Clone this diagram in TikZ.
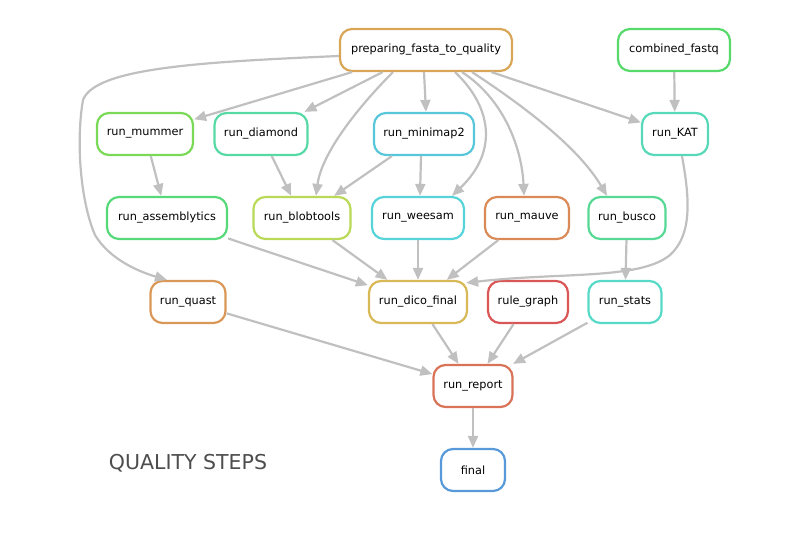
\documentclass[tikz,border=0pt]{standalone}
\usepackage{fontspec}
\setmainfont{DejaVu Sans}
\usetikzlibrary{arrows.meta}
\definecolor{edgec}{HTML}{C0C0C0}
\definecolor{cPrep}{HTML}{D9A657}
\definecolor{cComb}{HTML}{57D96B}
\definecolor{cMum}{HTML}{7AD957}
\definecolor{cDia}{HTML}{57D9A6}
\definecolor{cMini}{HTML}{57C7D9}
\definecolor{cKat}{HTML}{57D9B9}
\definecolor{cAss}{HTML}{57D97A}
\definecolor{cBlob}{HTML}{B9D957}
\definecolor{cWee}{HTML}{57D4D9}
\definecolor{cMau}{HTML}{D98A57}
\definecolor{cBus}{HTML}{57D995}
\definecolor{cQua}{HTML}{D99857}
\definecolor{cDico}{HTML}{D9B857}
\definecolor{cRule}{HTML}{D95757}
\definecolor{cStat}{HTML}{57D9C8}
\definecolor{cRep}{HTML}{D97357}
\definecolor{cFin}{HTML}{5799D9}
\definecolor{titlec}{HTML}{4D4D4D}
\begin{document}
\begin{tikzpicture}[x=1pt,y=-1pt,
  job/.style={draw, line width=2.2pt, rounded corners=12pt, fill=white,
    minimum height=42pt, inner sep=2pt, font=\fontsize{11.3}{13}\selectfont},
  edge/.style={draw=edgec, line width=2.2pt, -{Triangle[length=12pt,width=10pt]}}]
\useasboundingbox (0,0) rectangle (811,534);
% nodes
\node[job, draw=cPrep, minimum width=172pt] (prep) at (426,50) {preparing\_fasta\_to\_quality};
\node[job, draw=cComb, minimum width=112pt] (comb) at (674,50) {combined\_fastq};
\node[job, draw=cMum, minimum width=96pt] (mum) at (145,134) {run\_mummer};
\node[job, draw=cDia, minimum width=93pt] (dia) at (261,134) {run\_diamond};
\node[job, draw=cMini, minimum width=100pt] (mini) at (424,134) {run\_minimap2};
\node[job, draw=cKat, minimum width=66pt] (kat) at (675,134) {run\_KAT};
\node[job, draw=cAss, minimum width=120pt] (ass) at (167,218) {run\_assemblytics};
\node[job, draw=cBlob, minimum width=97pt] (blob) at (302,218) {run\_blobtools};
\node[job, draw=cWee, minimum width=92pt] (wee) at (418,218) {run\_weesam};
\node[job, draw=cMau, minimum width=84pt] (mau) at (527,218) {run\_mauve};
\node[job, draw=cBus, minimum width=77pt] (bus) at (627,218) {run\_busco};
\node[job, draw=cQua, minimum width=75pt] (qua) at (188,302) {run\_quast};
\node[job, draw=cDico, minimum width=98pt] (dico) at (418,302) {run\_dico\_final};
\node[job, draw=cRule, minimum width=80pt] (rule) at (528,302) {rule\_graph};
\node[job, draw=cStat, minimum width=73pt] (stat) at (625,302) {run\_stats};
\node[job, draw=cRep, minimum width=79pt] (rep) at (473,386) {run\_report};
\node[job, draw=cFin, minimum width=64pt] (fin) at (473,470) {final};
\node[text=titlec, font=\fontsize{20.5}{24}\selectfont] (title) at (188,463) {QUALITY STEPS};
% edges
\path[edge] ([yshift=-6pt]prep.west) .. controls (200,62) and (95,68) .. (83,100)
  .. controls (76,140) and (80,200) .. (95,235)
  .. controls (110,260) and (140,272) .. ([xshift=-21pt]qua.north);
\path[edge] (prep) -- (mum);
\path[edge] (prep) -- (dia);
\path[edge] ([xshift=-33pt]prep.south) .. controls (365,100) and (322,150) .. ([xshift=14pt]blob.north);
\path[edge] ([xshift=-2pt]prep.south) -- ([xshift=2pt]mini.north);
\path[edge] ([xshift=29pt]prep.south) .. controls (490,105) and (500,150) .. ([xshift=34pt]wee.north);
\path[edge] ([xshift=36pt]prep.south) .. controls (505,100) and (522,150) .. ([xshift=-3pt]mau.north);
\path[edge] ([xshift=46pt]prep.south) .. controls (530,110) and (580,150) .. ([xshift=-20pt]bus.north);
\path[edge] (prep) -- (kat);
\path[edge] (comb) -- (kat);
\path[edge] (mum) -- (ass);
\path[edge] (dia) -- (blob);
\path[edge] (mini) -- (blob);
\path[edge] ([xshift=-3pt]mini.south) -- ([xshift=2pt]wee.north);
\path[edge] ([xshift=7pt]kat.south) .. controls (690,200) and (692,235) .. (670,255)
  .. controls (640,280) and (560,272) .. ([xshift=-2pt,yshift=-3pt]dico.north east);
\path[edge] (ass) -- (dico);
\path[edge] (blob) -- (dico);
\path[edge] (wee) -- (dico);
\path[edge] (mau) -- (dico);
\path[edge] (bus) -- (stat);
\path[edge] (qua) -- (rep);
\path[edge] (dico) -- (rep);
\path[edge] (rule) -- (rep);
\path[edge] (stat) -- (rep);
\path[edge] (rep) -- (fin);
\end{tikzpicture}
\end{document}
